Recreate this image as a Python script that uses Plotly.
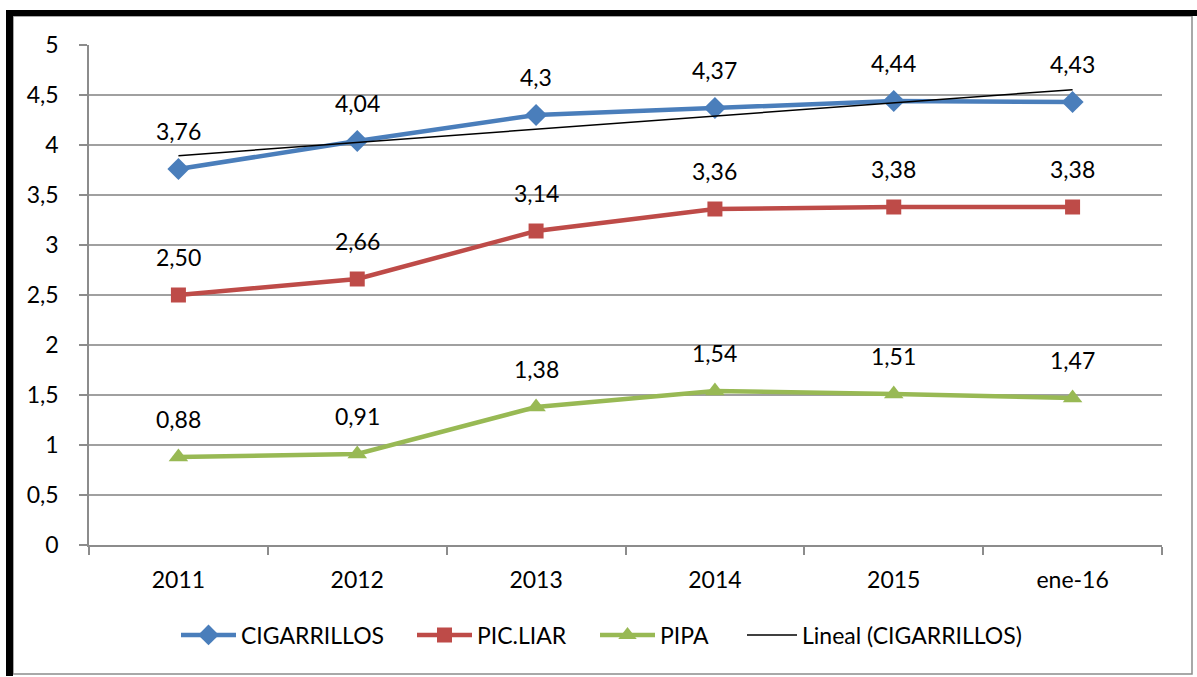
import numpy as np
import plotly.graph_objects as go

categories = ["2011", "2012", "2013", "2014", "2015", "ene-16"]
cigarrillos = [3.76, 4.04, 4.30, 4.37, 4.44, 4.43]
pic_liar = [2.50, 2.66, 3.14, 3.36, 3.38, 3.38]
pipa = [0.88, 0.91, 1.38, 1.54, 1.51, 1.47]
y_ticks = [0, 0.5, 1, 1.5, 2, 2.5, 3, 3.5, 4, 4.5, 5]

FONT = "Lato"
FS = 23
BLUE = "#4A7EBB"
RED = "#BE4B48"
GREEN = "#98B954"

# linear trend of CIGARRILLOS (Excel "Lineal")
idx = np.arange(1, len(categories) + 1)
slope, intercept = np.polyfit(idx, cigarrillos, 1)
trend = slope * idx + intercept

fig = go.Figure()
fig.add_trace(go.Scatter(x=categories, y=cigarrillos, name="CIGARRILLOS", mode="lines+markers",
                         line=dict(color=BLUE, width=4.5), legend="legend",
                         marker=dict(symbol="diamond", size=17, color=BLUE)))
fig.add_trace(go.Scatter(x=categories, y=pic_liar, name="PIC.LIAR", mode="lines+markers",
                         line=dict(color=RED, width=4.5), legend="legend2",
                         marker=dict(symbol="square", size=15, color=RED)))
fig.add_trace(go.Scatter(x=categories, y=pipa, name="PIPA", mode="lines+markers",
                         line=dict(color=GREEN, width=4.5), legend="legend3",
                         marker=dict(symbol="triangle-up", size=17, color=GREEN)))
fig.add_trace(go.Scatter(x=categories, y=trend, name="Lineal (CIGARRILLOS)", mode="lines",
                         line=dict(color="black", width=1.5), legend="legend4"))

def fmt_general(v):
    s = ("%.2f" % v).rstrip("0").rstrip(".")
    return s.replace(".", ",")

def fmt_2(v):
    return ("%.2f" % v).replace(".", ",")

annotations = []
for series, f in ((cigarrillos, fmt_general), (pic_liar, fmt_2), (pipa, fmt_2)):
    for i, v in enumerate(series):
        annotations.append(dict(x=i, y=v, xref="x", yref="y", text=f(v), showarrow=False,
                                yshift=38, font=dict(family=FONT, size=FS, color="black")))

L, R, T, B = 89, 1162, 45, 545
W, H = 1197, 677
def px(x):
    return (x - L) / (R - L)
def py(y):
    return (B - y) / (B - T)

shapes = [
    # gray frame
    dict(type="rect", xref="paper", yref="paper", x0=px(13), x1=px(1192), y0=py(674), y1=py(16),
         line=dict(color="#8C8C8C", width=1.5), layer="below"),
    # thick black left and top bands
    dict(type="rect", xref="paper", yref="paper", x0=px(6), x1=px(13), y0=py(676), y1=py(10),
         line=dict(width=0), fillcolor="black", layer="below"),
    dict(type="rect", xref="paper", yref="paper", x0=px(6), x1=px(1197), y0=py(16), y1=py(10),
         line=dict(width=0), fillcolor="black", layer="below"),
]

def leg(xpix, iw):
    return dict(orientation="h", x=px(xpix), xanchor="left", y=py(635), yanchor="middle",
                font=dict(family=FONT, size=FS, color="black"), itemwidth=iw,
                bgcolor="rgba(0,0,0,0)")

OFF = 5
fig.update_layout(
    width=W, height=H,
    margin=dict(l=L, r=W - R, t=T, b=H - B),
    paper_bgcolor="white", plot_bgcolor="white",
    separators=",.",
    font=dict(family=FONT, size=FS, color="black"),
    showlegend=True,
    legend=leg(181 - OFF, 55),
    legend2=leg(417 - OFF, 55),
    legend3=leg(600 - OFF, 55),
    legend4=leg(747 - OFF, 50),
    annotations=annotations,
    shapes=shapes,
)
fig.update_xaxes(type="category", range=[-0.5, len(categories) - 0.5],
                 showgrid=False, showline=True, linecolor="#8C8C8C", linewidth=1.5,
                 ticks="outside", tickson="boundaries", ticklen=8, tickcolor="#8C8C8C", tickwidth=1.5,
                 ticklabelstandoff=14, tickfont=dict(family=FONT, size=FS, color="black"))
fig.update_yaxes(range=[0, 5], tickvals=y_ticks, showgrid=True, gridcolor="#A0A0A0", gridwidth=1.5,
                 showline=True, linecolor="#8C8C8C", linewidth=1.5, zeroline=False,
                 ticks="outside", ticklen=8, tickcolor="#8C8C8C", tickwidth=1.5,
                 ticklabelstandoff=16, tickfont=dict(family=FONT, size=FS, color="black"))

fig.write_html("out.html", post_script="document.body.style.margin='0';",
               config={"displayModeBar": False})
